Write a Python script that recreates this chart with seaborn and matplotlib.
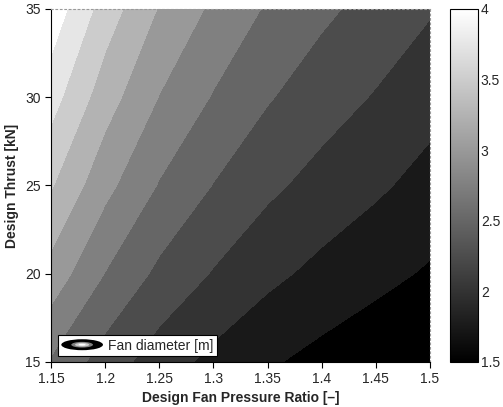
import matplotlib
matplotlib.use("Agg")
import matplotlib.pyplot as plt
import seaborn as sns
from matplotlib.colors import Normalize
from matplotlib.cm import ScalarMappable
from matplotlib.patches import Ellipse
from matplotlib.legend_handler import HandlerBase

# values
fan_pressure_ratio = [1.15, 1.2, 1.25, 1.3, 1.35, 1.4, 1.45, 1.5]
design_thrust = [15, 20, 25, 30, 35]
fan_diameter = [
    [2.72, 2.38, 2.12, 1.93, 1.78, 1.67, 1.58, 1.50],  # 15 kN
    [3.15, 2.74, 2.44, 2.23, 2.06, 1.93, 1.82, 1.72],  # 20 kN
    [3.52, 3.07, 2.73, 2.49, 2.30, 2.16, 2.04, 1.91],  # 25 kN
    [3.85, 3.36, 2.99, 2.73, 2.52, 2.36, 2.23, 2.09],  # 30 kN
    [4.16, 3.63, 3.23, 2.95, 2.72, 2.55, 2.41, 2.27],  # 35 kN
]
levels = [1.5, 1.75, 2.0, 2.25, 2.5, 2.75, 3.0, 3.25, 3.5, 3.75, 4.0, 4.5]
xticks = [1.15, 1.2, 1.25, 1.3, 1.35, 1.4, 1.45, 1.5]
xticklabels = ['1.15', '1.2', '1.25', '1.3', '1.35', '1.4', '1.45', '1.5']
yticks = [15, 20, 25, 30, 35]
cbar_ticks = [1.5, 2, 2.5, 3, 3.5, 4]
cbar_ticklabels = ['1.5', '2', '2.5', '3', '3.5', '4']

sns.set_style("ticks")
plt.rcParams['font.family'] = ['Liberation Sans', 'DejaVu Sans']
plt.rcParams['font.size'] = 10

gray = sns.color_palette("gray", as_cmap=True)
norm = Normalize(vmin=1.5, vmax=4.0)
# Matlab style: every band takes the colour of its lower level
band_colors = [gray(norm(lev)) for lev in levels[:-1]]


class ContourHandler(HandlerBase):
    def create_artists(self, legend, orig_handle, xdescent, ydescent,
                       width, height, fontsize, trans):
        cx = width / 2 - xdescent
        cy = height / 2 - ydescent
        artists = []
        for frac, c in [(1.0, 'black'), (0.52, '0.5'), (0.34, '0.8'), (0.17, 'white')]:
            e = Ellipse((cx, cy), width * frac, height * 0.95 * frac,
                        facecolor=c, edgecolor='none', transform=trans)
            artists.append(e)
        return artists


fig = plt.figure(figsize=(5.03, 4.07), dpi=100)
ax = fig.add_axes([0.1014, 0.1106, 0.7535, 0.8673])
cax = fig.add_axes([0.8946, 0.1106, 0.0557, 0.8673])

cs = ax.contourf(fan_pressure_ratio, design_thrust, fan_diameter,
                 levels=levels, colors=band_colors)
cs.set_edgecolor('face')
cs.set_linewidth(0.3)

ax.set_xlim(1.15, 1.5)
ax.set_ylim(15, 35)
ax.set_xticks(xticks)
ax.set_xticklabels(xticklabels)
ax.set_yticks(yticks)
ax.tick_params(direction='out', length=4, width=0.8, labelsize=10, color='black')
ax.set_xlabel('Design Fan Pressure Ratio [–]', fontsize=10, fontweight='bold', labelpad=3)
ax.set_ylabel('Design Thrust [kN]', fontsize=10, fontweight='bold', labelpad=4)
for side in ['left', 'bottom']:
    ax.spines[side].set_color('black')
    ax.spines[side].set_linewidth(0.8)
for side in ['top', 'right']:
    ax.spines[side].set_color('0.6')
    ax.spines[side].set_linewidth(0.8)
    ax.spines[side].set_linestyle((0, (1.5, 2.5)))

legend = ax.legend([object()], ['Fan diameter [m]'],
                   handler_map={object: ContourHandler()},
                   loc='lower left', bbox_to_anchor=(0.018, 0.017),
                   borderaxespad=0, fontsize=10, handlelength=3.0,
                   handleheight=0.9, handletextpad=0.35, borderpad=0.25,
                   fancybox=False, framealpha=1, edgecolor='black')
legend.get_frame().set_linewidth(0.8)

sm = ScalarMappable(norm=norm, cmap=gray)
cbar = fig.colorbar(sm, cax=cax)
cbar.set_ticks(cbar_ticks)
cbar.set_ticklabels(cbar_ticklabels)
cbar.outline.set_linewidth(0.8)
cbar.outline.set_edgecolor('black')
cax.tick_params(direction='in', left=True, right=True, length=3, width=0.6,
                labelsize=10, pad=2)

fig.savefig('out.png', dpi=100)
